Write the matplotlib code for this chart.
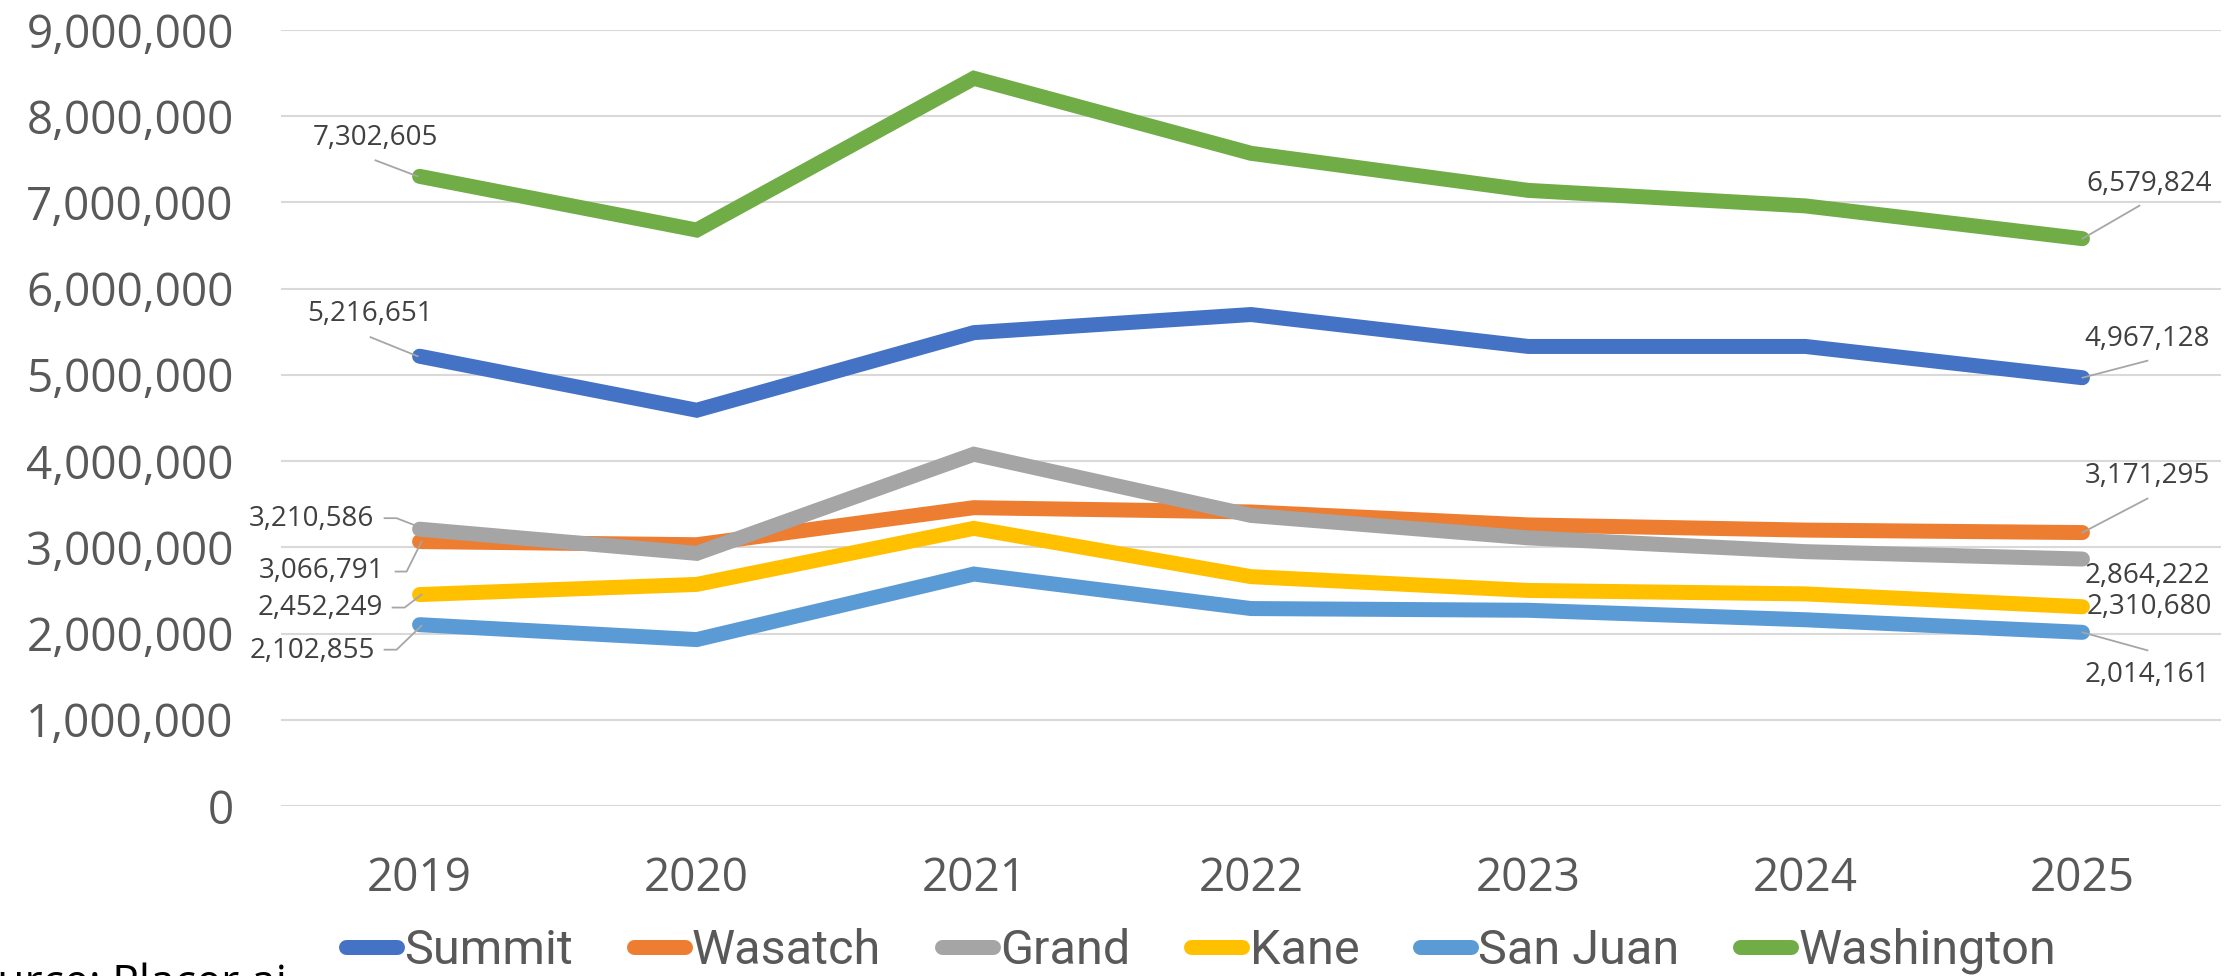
import matplotlib
matplotlib.use("Agg")
import matplotlib.pyplot as plt
import matplotlib.transforms as mtransforms
from matplotlib.lines import Line2D
from matplotlib.ticker import FuncFormatter, MultipleLocator

# visitor counts by county
years = ["2019", "2020", "2021", "2022", "2023", "2024", "2025"]
summit = [5216651, 4590000, 5490000, 5700000, 5330000, 5330000, 4967128]
wasatch = [3066791, 3030000, 3460000, 3410000, 3260000, 3200000, 3171295]
grand = [3210586, 2930000, 4080000, 3370000, 3110000, 2950000, 2864222]
kane = [2452249, 2570000, 3220000, 2660000, 2500000, 2460000, 2310680]
san_juan = [2102855, 1930000, 2690000, 2290000, 2270000, 2160000, 2014161]
washington = [7302605, 6680000, 8440000, 7570000, 7140000, 6960000, 6579824]

names = ["Summit", "Wasatch", "Grand", "Kane", "San Juan", "Washington"]
series = [summit, wasatch, grand, kane, san_juan, washington]
colors = ["#4472C4", "#ED7D31", "#A5A5A5", "#FFC000", "#5B9BD5", "#70AD47"]

TICK_FONT = ["Open Sans", "DejaVu Sans"]
LEG_FONT = ["Roboto", "DejaVu Sans"]

fig = plt.figure(figsize=(22.36, 9.76), dpi=100)
ax = fig.add_axes([281 / 2236, 1 - 806 / 976, (2221 - 281) / 2236, (806 - 30) / 976])

x = list(range(len(years)))
for vals, name, c in zip(series, names, colors):
    ax.plot(x, vals, color=c, lw=10.8, label=name,
            solid_capstyle="round", solid_joinstyle="miter")

ax.set_xlim(-0.5, len(years) - 0.5)
ax.set_ylim(0, 9000000)
ax.yaxis.set_major_locator(MultipleLocator(1000000))
ax.yaxis.set_major_formatter(FuncFormatter(lambda v, p: f"{v:,.0f}"))
ax.set_xticks(x)
ax.set_xticklabels(years)
ax.grid(axis="y", color="#d9d9d9", lw=1.5)
ax.set_axisbelow(True)
for s in ax.spines.values():
    s.set_visible(False)
ax.tick_params(axis="both", length=0, colors="#595959", labelsize=33)
ax.tick_params(axis="y", pad=34)
ax.tick_params(axis="x", pad=36)
for lbl in ax.get_xticklabels() + ax.get_yticklabels():
    lbl.set_family(TICK_FONT)

# data labels: (series index, point index, text dx, text dy, ha, leader points) in pixels, dy down
labels = [
    (5, 0, -44, -38, "center", [(-44, -16), (-2, 0)]),
    (0, 0, -50, -42, "center", [(-49, -19), (-2, 0)]),
    (2, 0, -45, -10, "right", [(-35, -11), (-23, -11), (-5, -4)]),
    (1, 0, -35, 29, "right", [(-24, 30), (-13, 30), (2, 0)]),
    (3, 0, -37, 13, "right", [(-27, 13), (-15, 13), (2, 0)]),
    (4, 0, -45, 26, "right", [(-35, 25), (-23, 25), (2, 1)]),
    (5, 6, 4, -55, "left", [(0, 0), (57, -33)]),
    (0, 6, 2, -39, "left", [(0, 0), (65, -17)]),
    (1, 6, 2, -57, "left", [(0, 0), (65, -34)]),
    (2, 6, 2, 17, "left", None),
    (3, 6, 4, 0, "left", None),
    (4, 6, 2, 43, "left", [(0, 0), (65, 18)]),
]

for si, pi, dx, dy, ha, lead in labels:
    v = series[si][pi]
    ax.annotate(f"{v:,}", xy=(pi, v), xytext=(dx * 0.72, -dy * 0.72),
                textcoords="offset points", ha=ha, va="center",
                fontsize=20, color="#404040", family=TICK_FONT, zorder=5)
    if lead:
        px, py = ax.transData.transform((pi, v))
        tr = mtransforms.Affine2D().translate(px, py)
        ax.add_line(Line2D([p[0] for p in lead], [-p[1] for p in lead],
                           transform=tr, color="#a6a6a6", lw=1.3,
                           clip_on=False, zorder=4))

leg = fig.legend(loc="center", bbox_to_anchor=(1201 / 2236, 1 - 951 / 976),
                 ncol=6, frameon=False, handlelength=1.05, handletextpad=0.15,
                 columnspacing=1.25, prop={"family": LEG_FONT, "size": 35},
                 labelcolor="#595959")

fig.text(287 / 2236, 1 - 962 / 976, "Source: Placer.ai", ha="right", va="top",
         fontsize=32, color="black", family=TICK_FONT)

fig.savefig("out.png", dpi=100)
